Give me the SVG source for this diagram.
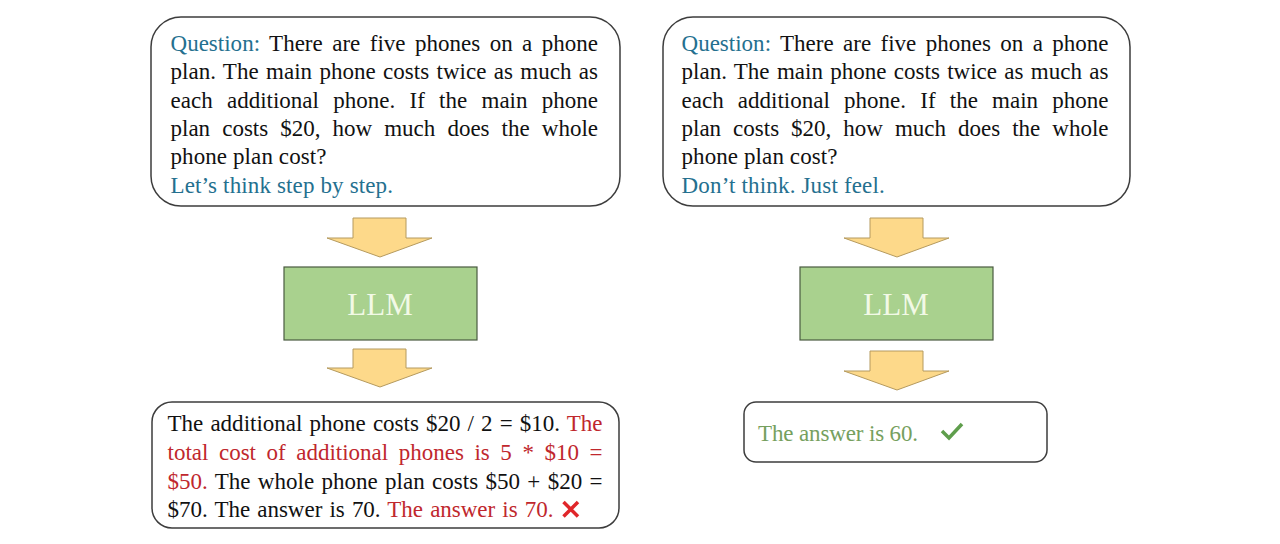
<svg xmlns="http://www.w3.org/2000/svg" width="1280" height="544" viewBox="0 0 1280 544">
<style>
.box{fill:#fff;stroke:#3d3d3d;stroke-width:1.5}
.llm{fill:#a9d18e;stroke:#4a5a40;stroke-width:1.2}
.arrow{fill:#fdd98a;stroke:#b59a5e;stroke-width:1}
.t{font-family:"Liberation Serif","Times New Roman",serif;font-size:23px;fill:#111}
.q{fill:#24708f}
.r{fill:#c0272d}
.g{fill:#76a05e}
.lt{font-family:"Liberation Serif","Times New Roman",serif;font-size:31px;fill:#f2f9e6;text-anchor:middle}
</style>
<rect width="1280" height="544" fill="#fff"/>
<g id="connectors">
<path class="arrow" d="M353,218 H406 V238 H432 L380,257 L327,238 H353 Z"/>
<path class="arrow" d="M353,349 H406 V368 H432 L380,387 L327,368 H353 Z"/>
<path class="arrow" d="M870,218 H923 V238 H949 L897,257 L844,238 H870 Z"/>
<path class="arrow" d="M870,351 H923 V371 H949 L897,390 L844,371 H870 Z"/>
</g>
<g id="question-left">
<rect class="box" x="151" y="17" width="469" height="189" rx="30"/>
<text class="t" x="170.5" y="50.5" word-spacing="3.67" textLength="427.5" lengthAdjust="spacing"><tspan class="q">Question:</tspan> There are five phones on a phone</text>
<text class="t" x="170.5" y="79" word-spacing="1.61" textLength="427.5" lengthAdjust="spacing">plan. The main phone costs twice as much as</text>
<text class="t" x="170.5" y="107.5" word-spacing="8.55" textLength="427.5" lengthAdjust="spacing">each additional phone. If the main phone</text>
<text class="t" x="170.5" y="136" word-spacing="6.31" textLength="427.5" lengthAdjust="spacing">plan costs $20, how much does the whole</text>
<text class="t" x="170.5" y="164.3" textLength="156" lengthAdjust="spacing">phone plan cost?</text>
<text class="t q" x="170.5" y="192.6" textLength="222.5" lengthAdjust="spacing">Let’s think step by step.</text>
</g>
<g id="question-right">
<rect class="box" x="663" y="17" width="467" height="189" rx="30"/>
<text class="t" x="681.5" y="50.5" word-spacing="3.6" textLength="427" lengthAdjust="spacing"><tspan class="q">Question:</tspan> There are five phones on a phone</text>
<text class="t" x="681.5" y="79" word-spacing="1.55" textLength="427" lengthAdjust="spacing">plan. The main phone costs twice as much as</text>
<text class="t" x="681.5" y="107.5" word-spacing="8.47" textLength="427" lengthAdjust="spacing">each additional phone. If the main phone</text>
<text class="t" x="681.5" y="136" word-spacing="6.24" textLength="427" lengthAdjust="spacing">plan costs $20, how much does the whole</text>
<text class="t" x="681.5" y="164.3" textLength="156" lengthAdjust="spacing">phone plan cost?</text>
<text class="t q" x="681.5" y="192.6" textLength="203.3" lengthAdjust="spacing">Don’t think. Just feel.</text>
</g>
<g id="llm-left">
<rect class="llm" x="284" y="267" width="193" height="73"/>
<text class="lt" x="380" y="315">LLM</text>
</g>
<g id="llm-right">
<rect class="llm" x="800" y="267" width="193" height="73"/>
<text class="lt" x="896" y="315">LLM</text>
</g>
<g id="answer-left">
<rect class="box" x="152" y="402" width="467" height="126" rx="20"/>
<text class="t" x="167.5" y="431" word-spacing="1.32" textLength="435" lengthAdjust="spacing">The additional phone costs $20 / 2 = $10. <tspan class="r">The</tspan></text>
<text class="t r" x="167.5" y="460" word-spacing="4.8" textLength="435" lengthAdjust="spacing">total cost of additional phones is 5 * $10 =</text>
<text class="t" x="167.5" y="488.5" word-spacing="1.59" textLength="435" lengthAdjust="spacing"><tspan class="r">$50.</tspan> The whole phone plan costs $50 + $20 =</text>
<text class="t" x="167.5" y="517" word-spacing="1.4" textLength="386" lengthAdjust="spacing">$70. The answer is 70. <tspan class="r">The answer is 70.</tspan></text>
<path d="M563.5,502 L578,516.5 M578,502 L563.5,516.5" stroke="#e0262a" stroke-width="3.5" fill="none"/>
</g>
<g id="answer-right">
<rect class="box" x="744" y="402" width="303" height="60" rx="12"/>
<text class="t g" x="758" y="441" textLength="160" lengthAdjust="spacing">The answer is 60.</text>
<path d="M942,431 L949,438 L962,424" stroke="#5f9e4c" stroke-width="3.5" fill="none"/>
</g>
</svg>
